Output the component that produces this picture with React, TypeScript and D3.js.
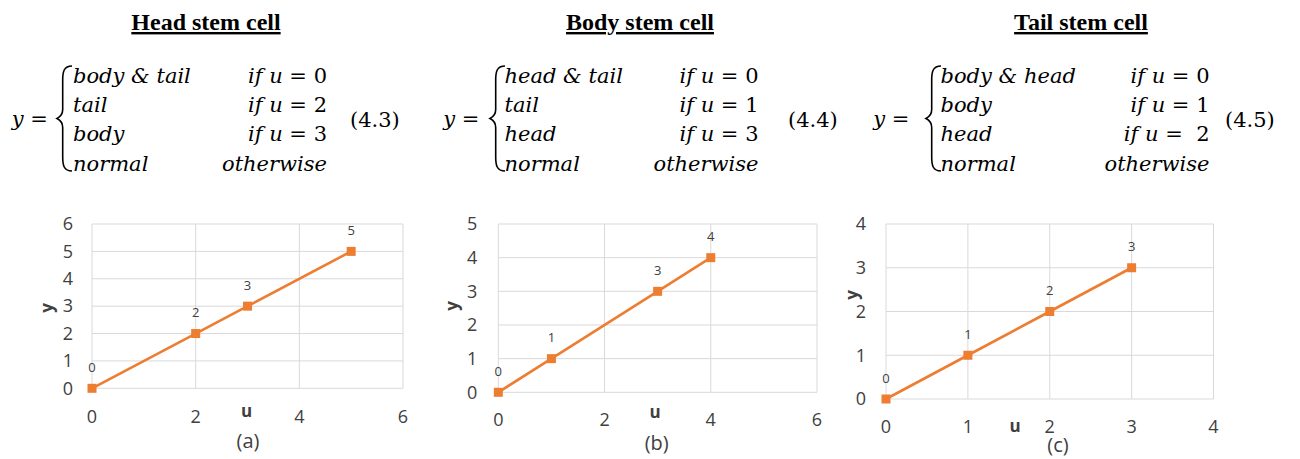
import React from "react";
import * as d3 from "d3";

// Section headings and piecewise definitions
const titles = ["Head stem cell", "Body stem cell", "Tail stem cell"];
const caseNames = [
  ["body & tail", "tail", "body", "normal"],
  ["head & tail", "tail", "head", "normal"],
  ["body & head", "body", "head", "normal"],
];
const caseConditions = [
  ["if u = 0", "if u = 2", "if u = 3", "otherwise"],
  ["if u = 0", "if u = 1", "if u = 3", "otherwise"],
  ["if u = 0", "if u = 1", "if u =  2", "otherwise"],
];
const equationNumbers = ["(4.3)", "(4.4)", "(4.5)"];

// Plotted series: u on the x axis, y on the y axis
const headU = [0, 2, 3, 5];
const headY = [0, 2, 3, 5];
const bodyU = [0, 1, 3, 4];
const bodyY = [0, 1, 3, 4];
const tailU = [0, 1, 2, 3];
const tailY = [0, 1, 2, 3];

const xMaxes = [6, 6, 4];
const yMaxes = [6, 5, 4];
const xTickSteps = [2, 2, 1];
const panelLabels = ["(a)", "(b)", "(c)"];

const ORANGE = "#ED7D31";
const GRID = "#D9D9D9";
const TEXT = "#404040";
const MATH_FONT = "'DejaVu Serif', serif";
const SANS = "'Open Sans', sans-serif";

type EqLayout = {
  titleX: number;
  yX: number;
  braceX: number;
  leftX: number;
  rightX: number;
  numX: number;
};

const eqLayouts: EqLayout[] = [
  { titleX: 206, yX: 11.7, braceX: 57, leftX: 73, rightX: 327, numX: 350 },
  { titleX: 640, yX: 443.3, braceX: 490, leftX: 504.5, rightX: 758.5, numX: 788 },
  { titleX: 1081, yX: 873.3, braceX: 926, leftX: 940.5, rightX: 1209.5, numX: 1225 },
];

type ChartLayout = {
  x0: number;
  x1: number;
  yBottom: number;
  yTop: number;
  tickLabelGap: number;
  xTickY: number;
  uX: number;
  uY: number;
  yLabX: number;
  yLabY: number;
  subX: number;
  subY: number;
};

const chartLayouts: ChartLayout[] = [
  { x0: 92, x1: 403, yBottom: 388.3, yTop: 224, tickLabelGap: 19, xTickY: 417, uX: 246.7, uY: 411.5, yLabX: 47, yLabY: 308, subX: 248, subY: 441 },
  { x0: 498.3, x1: 817, yBottom: 392.3, yTop: 224, tickLabelGap: 21, xTickY: 419.5, uX: 655, uY: 412, yLabX: 451.7, yLabY: 306, subX: 656.7, subY: 443 },
  { x0: 886, x1: 1213.5, yBottom: 399, yTop: 224, tickLabelGap: 20, xTickY: 427, uX: 1015, uY: 426.5, yLabX: 851.7, yLabY: 295, subX: 1058, subY: 445 },
];

const series = [
  { u: headU, y: headY },
  { u: bodyU, y: bodyY },
  { u: tailU, y: tailY },
];

function bracePath(x0: number, top: number, bottom: number, w: number): string {
  const right = x0 + w;
  const stem = x0 + w * 0.38;
  const mid = (top + bottom) / 2;
  return [
    `M ${right} ${top}`,
    `C ${stem + 1} ${top} ${stem} ${top + 6} ${stem} ${top + 14}`,
    `L ${stem} ${mid - 9}`,
    `C ${stem} ${mid - 3} ${x0 + 2} ${mid - 1} ${x0} ${mid}`,
    `C ${x0 + 2} ${mid + 1} ${stem} ${mid + 3} ${stem} ${mid + 9}`,
    `L ${stem} ${bottom - 14}`,
    `C ${stem} ${bottom - 6} ${stem + 1} ${bottom} ${right} ${bottom}`,
  ].join(" ");
}

// Italic variables, upright "=" and numerals
function MathText({ text, ...rest }: { text: string } & React.SVGProps<SVGTextElement>) {
  const idx = text.indexOf("=");
  if (idx < 0) {
    return (
      <text {...rest} fontStyle="italic">
        {text}
      </text>
    );
  }
  return (
    <text {...rest} style={{ whiteSpace: "pre" }}>
      <tspan fontStyle="italic">{text.slice(0, idx)}</tspan>
      <tspan fontStyle="normal">{text.slice(idx)}</tspan>
    </text>
  );
}

function Equation({ i }: { i: number }) {
  const L = eqLayouts[i];
  const rowBase = [83, 112.2, 141.4, 170.6];
  const fs = 21;
  return (
    <g fontFamily={MATH_FONT} fontSize={fs} fill="#000">
      <text
        x={L.titleX}
        y={30}
        textAnchor="middle"
        fontFamily="'Liberation Serif', 'Times New Roman', serif"
        fontWeight="bold"
        fontSize={24}
        textDecoration="underline"
      >
        {titles[i]}
      </text>
      <text x={L.yX} y={126} style={{ whiteSpace: "pre" }}>
        <tspan fontStyle="italic">y</tspan>
        <tspan> =</tspan>
      </text>
      <path d={bracePath(L.braceX, 66, 171, 15)} fill="none" stroke="#000" strokeWidth={1.6} />
      {caseNames[i].map((t, r) => (
        <text key={"l" + r} x={L.leftX} y={rowBase[r]} fontStyle="italic">
          {t}
        </text>
      ))}
      {caseConditions[i].map((t, r) => (
        <MathText key={"r" + r} text={t} x={L.rightX} y={rowBase[r]} textAnchor="end" />
      ))}
      <text x={L.numX} y={127}>
        {equationNumbers[i]}
      </text>
    </g>
  );
}

function Chart({ i }: { i: number }) {
  const L = chartLayouts[i];
  const s = series[i];
  const x = d3.scaleLinear().domain([0, xMaxes[i]]).range([L.x0, L.x1]);
  const y = d3.scaleLinear().domain([0, yMaxes[i]]).range([L.yBottom, L.yTop]);
  const xTicks = d3.range(0, xMaxes[i] + 0.001, xTickSteps[i]);
  const yTicks = d3.range(0, yMaxes[i] + 0.001, 1);
  const pts = s.u.map((u, k) => [u, s.y[k]] as [number, number]);
  const line = d3
    .line<[number, number]>()
    .x((d) => x(d[0]))
    .y((d) => y(d[1]));
  const m = 9;
  return (
    <g fontFamily={SANS}>
      {yTicks.map((t) => (
        <line key={"gy" + t} x1={L.x0} x2={L.x1} y1={y(t)} y2={y(t)} stroke={GRID} strokeWidth={1} />
      ))}
      {xTicks.map((t) => (
        <line key={"gx" + t} x1={x(t)} x2={x(t)} y1={L.yBottom} y2={L.yTop} stroke={GRID} strokeWidth={1} />
      ))}
      {yTicks.map((t) => (
        <text
          key={"ty" + t}
          x={L.x0 - L.tickLabelGap}
          y={y(t)}
          dy="0.35em"
          textAnchor="end"
          fontSize={18}
          fill={TEXT}
        >
          {t}
        </text>
      ))}
      {xTicks.map((t) => (
        <text key={"tx" + t} x={x(t)} y={L.xTickY} dy="0.35em" textAnchor="middle" fontSize={18} fill={TEXT}>
          {t}
        </text>
      ))}
      <text x={L.uX} y={L.uY} dy="0.35em" textAnchor="middle" fontSize={17} fontWeight="bold" fill={TEXT}>
        u
      </text>
      <text
        transform={`translate(${L.yLabX},${L.yLabY}) rotate(-90)`}
        dy="0.35em"
        textAnchor="middle"
        fontSize={17}
        fontWeight="bold"
        fill={TEXT}
      >
        y
      </text>
      <path d={line(pts) || ""} fill="none" stroke={ORANGE} strokeWidth={2.6} />
      {pts.map((p, k) => (
        <rect key={"m" + k} x={x(p[0]) - m / 2} y={y(p[1]) - m / 2} width={m} height={m} fill={ORANGE} />
      ))}
      {pts.map((p, k) => (
        <text
          key={"d" + k}
          x={x(p[0])}
          y={y(p[1]) - 21}
          dy="0.35em"
          textAnchor="middle"
          fontSize={13}
          fill={TEXT}
        >
          {p[1]}
        </text>
      ))}
      <text x={L.subX} y={L.subY} dy="0.35em" textAnchor="middle" fontSize={20} fill={TEXT}>
        {panelLabels[i]}
      </text>
    </g>
  );
}

export default function App() {
  return (
    <svg
      width={1300}
      height={459}
      viewBox="0 0 1300 459"
      style={{ position: "absolute", left: 0, top: 0, background: "#fff" }}
    >
      <rect width={1300} height={459} fill="#fff" />
      {[0, 1, 2].map((i) => (
        <g key={i}>
          <Equation i={i} />
          <Chart i={i} />
        </g>
      ))}
    </svg>
  );
}
